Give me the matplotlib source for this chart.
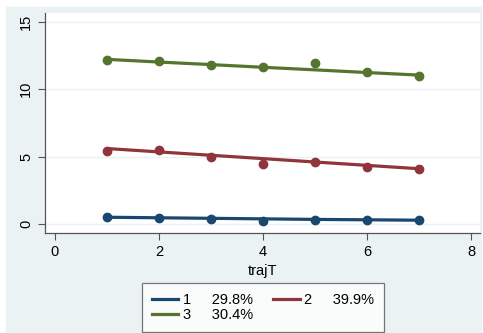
import matplotlib.pyplot as plt
from matplotlib.patches import Rectangle
from matplotlib.lines import Line2D

plt.rcParams['font.family'] = ['Liberation Sans', 'DejaVu Sans']
plt.rcParams['font.size'] = 10

traj_t = [1, 2, 3, 4, 5, 6, 7]
groups = ['1', '2', '3']
shares = ['29.8%', '39.9%', '30.4%']

# observed means
obs_1 = [0.52, 0.45, 0.37, 0.22, 0.27, 0.27, 0.30]
obs_2 = [5.40, 5.52, 4.97, 4.48, 4.60, 4.25, 4.08]
obs_3 = [12.15, 12.08, 11.78, 11.68, 11.93, 11.28, 10.96]

# fitted trajectories
fit_1 = [0.50, 0.46, 0.42, 0.38, 0.34, 0.31, 0.28]
fit_2 = [5.60, 5.35, 5.10, 4.85, 4.60, 4.35, 4.10]
fit_3 = [12.22, 12.02, 11.83, 11.63, 11.44, 11.24, 11.05]

colors = ['#1a476f', '#90353b', '#55752f']
bg = '#eaf2f3'

W, H = 483, 333
fig = plt.figure(figsize=(W / 100, H / 100), dpi=100, facecolor='white')
fig.patches.append(Rectangle((6 / W, 0), (481 - 6) / W, (H - 7) / H,
                             transform=fig.transFigure, color=bg, zorder=-10))

ax = fig.add_axes([45 / W, 1 - 233 / H, (480 - 45) / W, (233 - 13) / H])
ax.set_facecolor('white')

for obs, fit, c in zip([obs_1, obs_2, obs_3], [fit_1, fit_2, fit_3], colors):
    ax.plot(traj_t, fit, color=c, lw=2.3, solid_capstyle='round', zorder=3)
    ax.plot(traj_t, obs, 'o', color=c, ms=6, zorder=4)

ax.set_xlim(-0.19, 8.17)
ax.set_ylim(-0.67, 15.66)
ax.set_xticks([0, 2, 4, 6, 8])
ax.set_yticks([0, 5, 10, 15])
ax.grid(axis='y', color=bg, lw=1)
ax.set_axisbelow(True)
for s in ['top', 'right']:
    ax.spines[s].set_visible(False)
for s in ['left', 'bottom']:
    ax.spines[s].set_color('#555555')
    ax.spines[s].set_linewidth(0.9)
ax.tick_params(colors='#555555', labelcolor='black', length=5, labelsize=10.5)
for lab in ax.get_yticklabels():
    lab.set_rotation(90)
    lab.set_va('center')
ax.set_xlabel('trajT', fontsize=10.5, labelpad=4)

handles = [Line2D([], [], color=c, lw=2.3) for c in colors]
labels = [g + '     ' + s for g, s in zip(groups, shares)]
order = [0, 2, 1]
leg = fig.legend([handles[i] for i in order], [labels[i] for i in order],
                 ncol=2, loc='center',
                 bbox_to_anchor=(263 / W, 1 - 307.5 / H),
                 frameon=True, fancybox=False, fontsize=10.5,
                 handlelength=1.8, handletextpad=0.3, labelspacing=0.1,
                 borderpad=0.7, borderaxespad=0, columnspacing=1.4)
leg.get_frame().set_edgecolor('#555555')
leg.get_frame().set_linewidth(0.9)

fig.savefig('out.png', dpi=100, facecolor=fig.get_facecolor())
